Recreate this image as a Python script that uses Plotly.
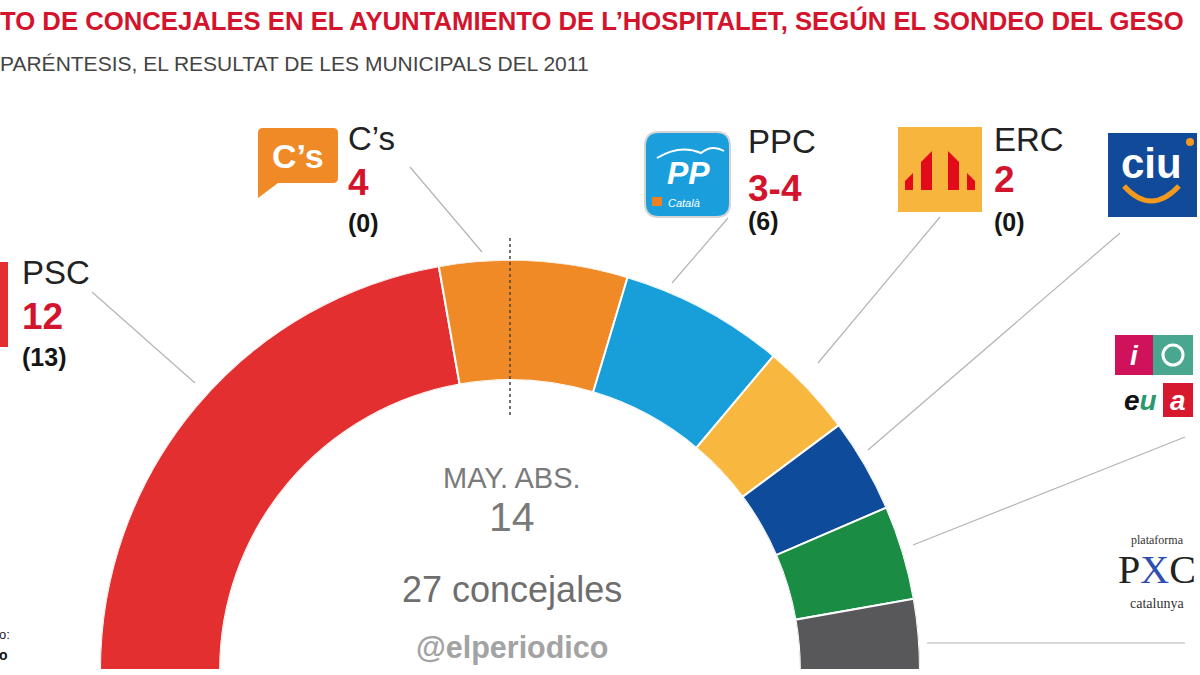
import plotly.graph_objects as go

# ---------------- data ----------------
parties = ["PSC", "C’s", "PPC", "ERC", "CiU", "ICV-EUiA", "PxC"]
seats = [12, 4, 3.5, 2, 2, 2, 1.5]
colors = ["#e32f2f", "#ef8a27", "#189fda", "#f8b73f", "#0f4b9b", "#1b8c44", "#58585a"]
label_parties = ["PSC", "C’s", "PPC", "ERC"]
seat_labels = ["12", "4", "3-4", "2"]
prev_labels = ["(13)", "(0)", "(6)", "(0)"]
total_seats = 27
majority = 14
title_text = "TO DE CONCEJALES EN EL AYUNTAMIENTO DE L’HOSPITALET, SEGÚN EL SONDEO DEL GESO"
subtitle_text = "PARÉNTESIS, EL RESULTAT DE LES MUNICIPALS DEL 2011"

W, H = 1200, 675
FONT = "Liberation Sans"
RED_TXT = "#d3142c"


def px(x):
    return x / W


def py(y):
    return 1 - y / H


# ---------------- hemicycle ----------------
thetas, widths = [], []
cum = 0
for v in seats:
    thetas.append((cum + v / 2) * 180 / total_seats)
    widths.append(v * 180 / total_seats)
    cum += v

fig = go.Figure()
fig.add_trace(go.Barpolar(
    r=[1] * len(seats), theta=thetas, width=widths,
    marker=dict(color=colors, line=dict(color="white", width=2)),
    text=parties, hoverinfo="text", showlegend=False,
))

cx, cy, R = 510, 670, 410
fig.update_layout(
    width=W, height=H,
    margin=dict(l=0, r=0, t=0, b=0),
    paper_bgcolor="white",
    showlegend=False,
    polar=dict(
        domain=dict(x=[px(cx - R), px(cx + R)], y=[py(cy), py(cy - R)]),
        sector=[0, 180],
        hole=0.707,
        bgcolor="white",
        radialaxis=dict(visible=False, range=[0, 1]),
        angularaxis=dict(visible=False, direction="clockwise", rotation=180,
                         showgrid=False),
    ),
)

shapes = []
annots = []


def line(x0, y0, x1, y1, color="#b4b4b4", width=1.2, dash=None):
    d = dict(type="line", xref="paper", yref="paper",
             x0=px(x0), y0=py(y0), x1=px(x1), y1=py(y1),
             line=dict(color=color, width=width))
    if dash:
        d["line"]["dash"] = dash
    shapes.append(d)


def rect(x0, y0, x1, y1, fill, lc=None, lw=0):
    shapes.append(dict(type="rect", xref="paper", yref="paper",
                       x0=px(x0), y0=py(y0), x1=px(x1), y1=py(y1),
                       fillcolor=fill, line=dict(color=lc or fill, width=lw)))


def path(points_cmds, fill=None, lc=None, lw=0):
    s = ""
    for c in points_cmds:
        if isinstance(c, str):
            s += c + " "
        else:
            s += f"{px(c[0]):.5f},{py(c[1]):.5f} "
    d = dict(type="path", xref="paper", yref="paper", path=s.strip(),
             line=dict(color=lc or "rgba(0,0,0,0)", width=lw))
    if fill:
        d["fillcolor"] = fill
    shapes.append(d)


def rrect(x0, y0, x1, y1, r, fill, lc=None, lw=0):
    path(["M", (x0 + r, y0), "L", (x1 - r, y0), "Q", (x1, y0), (x1, y0 + r),
          "L", (x1, y1 - r), "Q", (x1, y1), (x1 - r, y1),
          "L", (x0 + r, y1), "Q", (x0, y1), (x0, y1 - r),
          "L", (x0, y0 + r), "Q", (x0, y0), (x0 + r, y0), "Z"], fill=fill, lc=lc, lw=lw)


def text(x, y, t, size, color="#222", bold=False, anchor="left", family=FONT, italic=False):
    s = t
    if bold:
        s = f"<b>{s}</b>"
    if italic:
        s = f"<i>{s}</i>"
    annots.append(dict(x=px(x), y=py(y), xref="paper", yref="paper", text=s,
                       showarrow=False, xanchor=anchor, yanchor="middle",
                       font=dict(family=family, size=size, color=color)))


# title & subtitle
text(-2, 21, title_text, 25.7, RED_TXT, bold=True)
text(-2, 63, subtitle_text, 21, "#444444")

# majority dotted line (theta = 90°)
line(cx, 238, cx, 415, color="#444444", width=1.5, dash="dot")

# leader lines
line(92, 292, 195, 383)
line(410, 167, 482, 252)
line(728, 218, 672, 283)
line(940, 217, 818, 363)
line(1120, 233, 868, 450)
line(1185, 437, 913, 545)
line(927, 643, 1185, 643)

# party labels
label_pos = [(20, 272, 316, 357), (346, 138, 183, 223), (746, 141, 188, 221), (992, 139, 180, 222)]
for (x, yn, ys, yp), name, sl, pl in zip(label_pos, label_parties, seat_labels, prev_labels):
    text(x, yn, name, 33, "#222222")
    text(x, ys, sl, 37, RED_TXT, bold=True)
    text(x, yp, pl, 25, "#151515", bold=True)

# PSC logo (cut at left edge)
rect(-20, 262, 8, 347, "#e32f2f")

# C's logo
path(["M", (263, 128), "L", (333, 128), "Q", (338, 128), (338, 133), "L", (338, 178),
      "Q", (338, 183), (333, 183), "L", (278, 183), "L", (258, 198), "L", (258, 133),
      "Q", (258, 128), (263, 128), "Z"], fill="#ef8a27")
text(298, 156, "C’s", 34, "white", bold=True, anchor="center")

# PP logo
rrect(645, 132, 730, 217, 14, "#1b9fdc", lc="#d4d4d4", lw=2)
path(["M", (657, 158), "Q", (680, 144), (701, 153), "Q", (712, 144), (724, 151)],
     lc="white", lw=2)
text(688, 173, "PP", 32, "white", bold=True, italic=True, anchor="center")
rect(652, 197, 662, 206, "#f08020")
text(666, 203, "Català", 11, "white", italic=True)

# ERC logo
rect(898, 127, 982, 212, "#f8b53e")
for bx0, bx1, t0, t1 in [(905, 913, 181, 173), (921, 932, 162, 151), (948, 959, 151, 162), (967, 975, 173, 181)]:
    path(["M", (bx0, 190), "L", (bx0, t0), "L", (bx1, t1), "L", (bx1, 190), "Z"], fill="#e30a1a")

# CiU logo
rect(1108, 133, 1197, 217, "#124a9a")
text(1151, 163, "ciu", 42, "white", bold=True, anchor="center")
path(["M", (1124, 186), "Q", (1151, 216), (1179, 186)], lc="#f39a1e", lw=5)
shapes.append(dict(type="circle", xref="paper", yref="paper", x0=px(1186), y0=py(138),
                   x1=px(1194), y1=py(146), fillcolor="#f39a1e", line=dict(width=0)))

# ICV-EUiA logo
rect(1115, 335, 1153, 375, "#cf1259")
rect(1153, 335, 1193, 375, "#4aa78f")
text(1134, 355, "i", 28, "white", bold=True, italic=True, anchor="center")
shapes.append(dict(type="circle", xref="paper", yref="paper", x0=px(1163), y0=py(345),
                   x1=px(1183), y1=py(365), fillcolor="rgba(0,0,0,0)",
                   line=dict(color="white", width=3)))
rect(1163, 383, 1193, 417, "#d6192e")
text(1140, 400, "<span style='color:#111'>e</span><span style='color:#2a9a6e'>u</span>",
     28, "#111", bold=True, italic=True, anchor="center")
text(1178, 400, "a", 28, "white", bold=True, italic=True, anchor="center")

# PxC logo
text(1157, 540, "plataforma", 12, "#333", anchor="center", family="Liberation Serif")
text(1157, 569, "P<span style='color:#2f4fb0'>X</span>C", 40, "#222", anchor="center",
     family="Liberation Serif")
text(1157, 603, "catalunya", 14, "#333", anchor="center", family="Liberation Serif")

# centre texts
text(cx + 2, 478, "MAY. ABS.", 29, "#7a7a7a", anchor="center")
text(cx + 2, 517, str(majority), 41, "#7a7a7a", anchor="center")
text(cx + 2, 589, f"{total_seats} concejales", 36, "#6e6e6e", anchor="center")
text(cx + 2, 647, "@elperiodico", 30.5, "#a3a3a3", bold=True, anchor="center")

# small texts at left edge
text(-3, 634, "o:", 13, "#222", anchor="left")
text(-3, 655, "o", 14, "#111", bold=True, anchor="left")

fig.update_layout(shapes=shapes, annotations=annots)
fig.write_html("out.html", post_script="document.body.style.margin='0';",
               config={"displayModeBar": False})
